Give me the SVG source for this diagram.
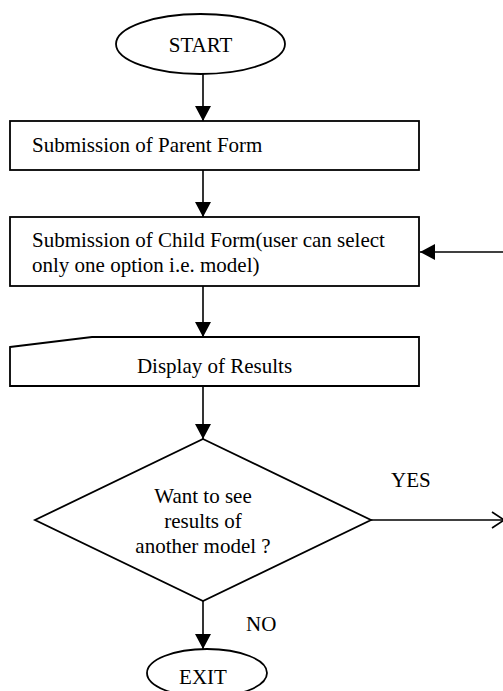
<svg xmlns="http://www.w3.org/2000/svg" width="503" height="691" viewBox="0 0 503 691">
<defs>
<style>
.s{fill:#fff;stroke:#000;stroke-width:1.8}
.c{fill:none;stroke:#000;stroke-width:1.6}
text{font-family:"Liberation Serif","Times New Roman",serif;font-size:21px;fill:#000}
.m{text-anchor:middle}
</style>
<marker id="ah" viewBox="0 0 15 16" refX="15" refY="8" markerWidth="15" markerHeight="16" markerUnits="userSpaceOnUse" orient="auto">
<path d="M0,0 L15,8 L0,16 Z" fill="#000"/>
</marker>
</defs>
<g id="connectors">
<line class="c" x1="203" y1="74" x2="203" y2="121" marker-end="url(#ah)"/>
<line class="c" x1="203" y1="170" x2="203" y2="217" marker-end="url(#ah)"/>
<line class="c" x1="203" y1="286" x2="203" y2="337" marker-end="url(#ah)"/>
<line class="c" x1="203" y1="386" x2="203" y2="439" marker-end="url(#ah)"/>
<line class="c" x1="203" y1="601" x2="203" y2="649" marker-end="url(#ah)"/>
<line class="c" x1="503" y1="252" x2="420" y2="252" marker-end="url(#ah)"/>
<line class="c" x1="371" y1="520" x2="503" y2="520"/>
<polyline class="c" points="492,512 504,520 492,528"/>
<text x="391" y="487">YES</text>
<text x="246" y="631">NO</text>
</g>
<g id="start">
<ellipse class="s" cx="200.5" cy="44" rx="84.5" ry="30"/>
<text class="m" x="200.5" y="51.5">START</text>
</g>
<g id="parent">
<rect class="s" x="10" y="121" width="409" height="49"/>
<text x="32" y="152">Submission of Parent Form</text>
</g>
<g id="child">
<rect class="s" x="10" y="217" width="409" height="69"/>
<text x="32" y="247">Submission of Child Form(user can select</text>
<text x="32" y="272">only one option i.e. model)</text>
</g>
<g id="display">
<path class="s" d="M10,347 L92,337 L419,337 L419,386 L10,386 Z"/>
<text class="m" x="214.5" y="373">Display of Results</text>
</g>
<g id="decision">
<path class="s" d="M203,439 L371,520 L203,601 L35,520 Z"/>
<text class="m" x="203" y="503">Want to see</text>
<text class="m" x="203" y="528">results of</text>
<text class="m" x="203" y="553">another model ?</text>
</g>
<g id="exit">
<ellipse class="s" cx="207" cy="673" rx="60" ry="24"/>
<text class="m" x="203" y="684">EXIT</text>
</g>
</svg>
